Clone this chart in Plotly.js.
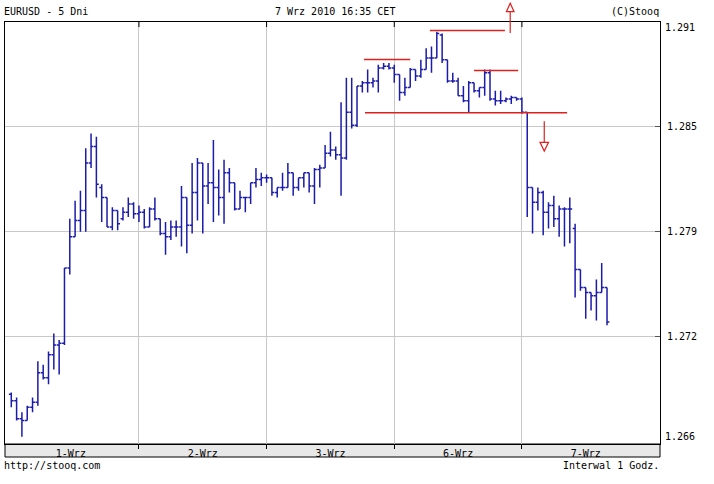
<!DOCTYPE html>
<html>
<head>
<meta charset="utf-8">
<script src="https://cdn.plot.ly/plotly-3.0.1.min.js"></script>
<style>
  html, body { margin: 0; padding: 0; background: #ffffff; }
  #chart { width: 714px; height: 484px; }
</style>
</head>
<body>
<div id="chart"></div>
<script>
// ---- hourly bars, EURUSD, 1-7 Sep 2010 (bar index 0 = 1-Wrz 00:00) ----
const openVals = [
  1.2687,1.2683,1.2672,1.2671,1.2679,1.2682,1.2700,1.2697,1.2711,1.2717,1.2718,1.2764,
  1.2783,1.2793,1.2799,1.2828,1.2838,1.2813,1.2807,1.2789,1.2799,1.2794,1.2798,1.2803,
  1.2797,1.2798,1.2789,1.2800,1.2794,1.2785,1.2783,1.2789,1.2789,1.2807,1.2790,1.2810,
  1.2828,1.2814,1.2816,1.2813,1.2807,1.2822,1.2816,1.2800,1.2807,1.2807,1.2816,1.2818,
  1.2819,1.2819,1.2810,1.2813,1.2813,1.2822,1.2813,1.2819,1.2822,1.2814,1.2824,1.2825,
  1.2834,1.2836,1.2833,1.2831,1.2859,1.2851,1.2875,1.2877,1.2877,1.2878,1.2886,1.2887,
  1.2886,1.2882,1.2871,1.2874,1.2885,1.2881,1.2885,1.2892,1.2892,1.2906,1.2891,1.2878,
  1.2878,1.2869,1.2866,1.2877,1.2872,1.2874,1.2883,1.2867,1.2866,1.2866,1.2867,1.2868,
  1.2867,1.2859,1.2813,1.2804,1.2810,1.2798,1.2802,1.2794,1.2800,1.2800,1.2788,1.2763,
  1.2752,1.2749,1.2747,1.2749,1.2752
];
const highVals = [
  1.2688,1.2685,1.2676,1.2680,1.2685,1.2707,1.2705,1.2713,1.2724,1.2720,1.2764,1.2794,
  1.2805,1.2811,1.2837,1.2846,1.2844,1.2815,1.2807,1.2801,1.2799,1.2801,1.2807,1.2804,
  1.2802,1.2800,1.2801,1.2807,1.2794,1.2792,1.2793,1.2793,1.2814,1.2807,1.2828,1.2831,
  1.2828,1.2828,1.2842,1.2824,1.2830,1.2825,1.2816,1.2811,1.2807,1.2816,1.2825,1.2822,
  1.2821,1.2819,1.2813,1.2822,1.2828,1.2822,1.2819,1.2822,1.2822,1.2825,1.2827,1.2839,
  1.2847,1.2838,1.2865,1.2880,1.2880,1.2875,1.2878,1.2885,1.2880,1.2888,1.2889,1.2889,
  1.2888,1.2882,1.2880,1.2886,1.2885,1.2891,1.2898,1.2899,1.2908,1.2907,1.2891,1.2883,
  1.2880,1.2875,1.2878,1.2877,1.2874,1.2885,1.2885,1.2872,1.2872,1.2868,1.2869,1.2868,
  1.2868,1.2859,1.2813,1.2813,1.2811,1.2804,1.2808,1.2802,1.2801,1.2807,1.2791,1.2763,
  1.2752,1.2749,1.2757,1.2767,1.2752
];
const lowVals = [
  1.2679,1.2671,1.2661,1.2671,1.2676,1.2680,1.2696,1.2693,1.2702,1.2699,1.2717,1.2760,
  1.2783,1.2786,1.2786,1.2825,1.2807,1.2792,1.2789,1.2787,1.2787,1.2793,1.2795,1.2794,
  1.2792,1.2788,1.2789,1.2793,1.2784,1.2772,1.2781,1.2783,1.2777,1.2773,1.2785,1.2793,
  1.2785,1.2803,1.2792,1.2796,1.2791,1.2810,1.2799,1.2800,1.2798,1.2803,1.2813,1.2814,
  1.2816,1.2808,1.2807,1.2811,1.2813,1.2808,1.2811,1.2813,1.2810,1.2803,1.2813,1.2825,
  1.2832,1.2830,1.2808,1.2830,1.2849,1.2850,1.2871,1.2871,1.2874,1.2871,1.2885,1.2885,
  1.2877,1.2866,1.2869,1.2874,1.2878,1.2880,1.2885,1.2883,1.2892,1.2889,1.2877,1.2877,
  1.2869,1.2865,1.2859,1.2871,1.2868,1.2869,1.2866,1.2863,1.2864,1.2865,1.2864,1.2866,
  1.2858,1.2795,1.2785,1.2799,1.2784,1.2788,1.2789,1.2783,1.2777,1.2779,1.2746,1.2750,
  1.2733,1.2738,1.2732,1.2749,1.2729
];
const closeVals = [
  1.2683,1.2672,1.2671,1.2679,1.2682,1.2700,1.2697,1.2711,1.2717,1.2718,1.2764,1.2783,
  1.2793,1.2799,1.2828,1.2838,1.2815,1.2807,1.2789,1.2799,1.2791,1.2798,1.2803,1.2797,
  1.2798,1.2789,1.2800,1.2794,1.2785,1.2783,1.2789,1.2789,1.2807,1.2790,1.2810,1.2828,
  1.2814,1.2816,1.2813,1.2807,1.2822,1.2816,1.2800,1.2807,1.2807,1.2816,1.2818,1.2819,
  1.2819,1.2810,1.2813,1.2813,1.2822,1.2813,1.2819,1.2822,1.2814,1.2824,1.2825,1.2834,
  1.2836,1.2833,1.2831,1.2859,1.2851,1.2875,1.2877,1.2877,1.2878,1.2886,1.2887,1.2886,
  1.2882,1.2871,1.2874,1.2885,1.2881,1.2885,1.2892,1.2892,1.2907,1.2891,1.2878,1.2878,
  1.2869,1.2866,1.2877,1.2872,1.2874,1.2883,1.2867,1.2866,1.2866,1.2867,1.2868,1.2867,
  1.2859,1.2813,1.2804,1.2810,1.2798,1.2802,1.2794,1.2800,1.2800,1.2800,1.2763,1.2752,
  1.2749,1.2747,1.2749,1.2752,1.2731
];

// ---- axis labels ----
const dayLabels   = ['1-Wrz', '2-Wrz', '3-Wrz', '6-Wrz', '7-Wrz'];
const dayLabelPos = [11.2, 36, 60, 84, 108];   // bar index at label centre
const dayBreaks   = [24, 48, 72, 96];          // bar index of day boundaries
const yTickVals   = [1.2850, 1.2786, 1.2722];
const yTickText   = ['1.285', '1.279', '1.272'];
const yRange      = [1.26566, 1.29140];
const yEdgeText   = ['1.291', '1.266'];

// ---- hand-drawn technical-analysis marks (bar index, price) ----
const resistLines = [
  { x0: 66.3, x1: 75.0, y: 1.28911 },   // left shoulder
  { x0: 78.7, x1: 92.8, y: 1.29088 },   // head
  { x0: 87.0, x1: 95.3, y: 1.28844 },   // right shoulder
  { x0: 66.5, x1: 104.5, y: 1.28587 }   // neckline
];
const upArrow   = { x: 93.8, yStem0: 1.29073, yBase: 1.29203, yTip: 1.29254, half: 0.72 };
const downArrow = { x: 100.2, yStem0: 1.28534, yBase: 1.28406, yTip: 1.28353, half: 0.8 };

const idx = openVals.map((_, i) => i);
// price -> paper fraction (so marks above the plot top are not clipped)
const toPaper = p => (p - yRange[0]) / (yRange[1] - yRange[0]);

const FONT = 'DejaVu Sans Mono, Liberation Mono, monospace';
const BLUE = '#1c1caa';
const RED = '#dd2020';

const trace = {
  type: 'ohlc',
  x: idx,
  open: openVals, high: highVals, low: lowVals, close: closeVals,
  increasing: { line: { color: BLUE, width: 1.5 } },
  decreasing: { line: { color: BLUE, width: 1.5 } },
  tickwidth: 0.45,
  hoverinfo: 'skip',
  showlegend: false
};

const shapes = [];
// date band below the plot
shapes.push({ type: 'rect', xref: 'paper', yref: 'paper', x0: 0, x1: 1, y0: -13/422, y1: 0,
  fillcolor: '#e8e8e8', line: { color: '#000', width: 1 }, layer: 'below' });
// top-border ticks at day boundaries
dayBreaks.forEach(b => {
  shapes.push({ type: 'line', xref: 'x', yref: 'paper', x0: b, x1: b, y0: 1, y1: 1 - 5/422,
    line: { color: '#000', width: 1 } });
});
// red lines
resistLines.forEach(r => {
  shapes.push({ type: 'line', xref: 'x', yref: 'y', x0: r.x0, x1: r.x1, y0: r.y, y1: r.y,
    line: { color: RED, width: 1.5 } });
});
// up arrow (partly above the plot area -> paper y)
shapes.push({ type: 'line', xref: 'x', yref: 'paper', x0: upArrow.x, x1: upArrow.x,
  y0: toPaper(upArrow.yStem0), y1: toPaper(upArrow.yBase), line: { color: RED, width: 1.2 } });
shapes.push({ type: 'path', xref: 'x', yref: 'paper',
  path: `M ${upArrow.x - upArrow.half} ${toPaper(upArrow.yBase)} L ${upArrow.x + upArrow.half} ${toPaper(upArrow.yBase)} L ${upArrow.x} ${toPaper(upArrow.yTip)} Z`,
  line: { color: RED, width: 1.2 }, fillcolor: 'rgba(255,255,255,1)' });
// down arrow
shapes.push({ type: 'line', xref: 'x', yref: 'y', x0: downArrow.x, x1: downArrow.x,
  y0: downArrow.yStem0, y1: downArrow.yBase, line: { color: RED, width: 1.2 } });
shapes.push({ type: 'path', xref: 'x', yref: 'y',
  path: `M ${downArrow.x - downArrow.half} ${downArrow.yBase} L ${downArrow.x + downArrow.half} ${downArrow.yBase} L ${downArrow.x} ${downArrow.yTip} Z`,
  line: { color: RED, width: 1.2 }, fillcolor: 'rgba(255,255,255,1)' });

const txt = (text, x, y, xanchor, yanchor, extra) => Object.assign({
  text, x, y, xref: 'paper', yref: 'paper', xanchor, yanchor, showarrow: false,
  font: { family: FONT, size: 10, color: '#000' }
}, extra || {});

const annotations = [
  txt('EURUSD - 5 Dni', 0, 1.0237, 'left', 'middle', { xshift: -3 }),
  txt('7 Wrz 2010 16:35 CET', 0.5, 1.0237, 'center', 'middle', { xshift: 2 }),
  txt('(C)Stooq', 1, 1.0237, 'right', 'middle', { xshift: 1 }),
  txt('http://stooq.com', 0, -0.0521, 'left', 'middle', { xshift: -3 }),
  txt('Interwal 1 Godz.', 1, -0.0521, 'right', 'middle', { xshift: 1 }),
  txt(yEdgeText[0], 1, 1, 'left', 'top', { xshift: 3, yshift: 2 }),
  txt(yEdgeText[1], 1, 0, 'left', 'bottom', { xshift: 3, yshift: 0 })
];

const layout = {
  width: 714, height: 484,
  margin: { l: 5, r: 54, t: 22, b: 40, pad: 0 },
  paper_bgcolor: '#ffffff',
  plot_bgcolor: '#ffffff',
  font: { family: FONT, size: 10, color: '#000' },
  showlegend: false,
  dragmode: false,
  xaxis: {
    range: [-1.18, 121.96],
    rangeslider: { visible: false },
    tickmode: 'array', tickvals: dayLabelPos, ticktext: dayLabels,
    ticks: '', showgrid: false, zeroline: false,
    showline: true, mirror: true, linecolor: '#000', linewidth: 1,
    tickfont: { family: FONT, size: 10, color: '#000' },
    minor: { tickmode: 'array', tickvals: dayBreaks, showgrid: true, gridcolor: '#c8c8c8', gridwidth: 1,
             ticks: 'outside', ticklen: 4, tickcolor: '#000', tickwidth: 1 },
    fixedrange: true
  },
  yaxis: {
    side: 'right',
    range: yRange,
    tickmode: 'array', tickvals: yTickVals, ticktext: yTickText,
    ticks: 'inside', ticklen: 5, tickcolor: '#555', tickwidth: 1,
    showgrid: true, gridcolor: '#c8c8c8', gridwidth: 1, zeroline: false,
    showline: true, mirror: true, linecolor: '#000', linewidth: 1,
    tickfont: { family: FONT, size: 10, color: '#000' },
    ticklabelstandoff: 4,
    fixedrange: true
  },
  shapes, annotations
};

Plotly.newPlot('chart', [trace], layout, { displayModeBar: false, staticPlot: true });
</script>
</body>
</html>
